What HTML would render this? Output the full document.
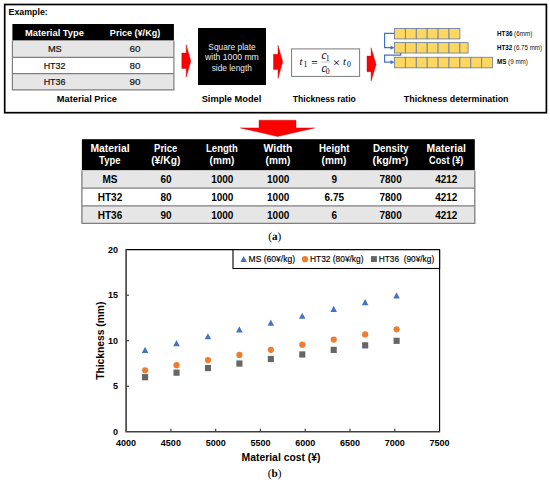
<!DOCTYPE html>
<html><head><meta charset="utf-8"><style>
html,body{margin:0;padding:0;background:#fff;width:550px;height:482px;overflow:hidden}
svg{display:block}
</style></head><body>
<svg width="550" height="482" viewBox="0 0 550 482">
<rect x="4.7" y="4.5" width="541.7" height="108.2" fill="none" stroke="#000" stroke-width="1.7"/>
<text x="28.15" y="14.5" style="font-family:'Liberation Sans',sans-serif;font-size:8.2px;font-weight:bold" fill="#000" text-anchor="middle" textLength="39.16" lengthAdjust="spacingAndGlyphs">Example:</text>
<rect x="12.4" y="24" width="161.5" height="16.6" fill="#000"/>
<rect x="12.4" y="40.6" width="161.5" height="16.7" fill="#e6e6e6"/>
<rect x="12.4" y="57.3" width="161.5" height="16.3" fill="#fff"/>
<rect x="12.4" y="73.6" width="161.5" height="16.3" fill="#e6e6e6"/>
<line x1="12.4" y1="57.3" x2="173.9" y2="57.3" stroke="#7f7f7f" stroke-width="1.2"/>
<line x1="12.4" y1="73.6" x2="173.9" y2="73.6" stroke="#7f7f7f" stroke-width="1.2"/>
<path d="M12.4 40.6 V89.9 H173.9 V40.6" fill="none" stroke="#7f7f7f" stroke-width="1.2"/>
<text x="54.45" y="35.8" style="font-family:'Liberation Sans',sans-serif;font-size:8.8px;font-weight:bold" fill="#fff" text-anchor="middle" textLength="59.0" lengthAdjust="spacingAndGlyphs">Material Type</text>
<text x="135.05" y="35.8" style="font-family:'Liberation Sans',sans-serif;font-size:8.8px;font-weight:bold" fill="#fff" text-anchor="middle" textLength="50.4" lengthAdjust="spacingAndGlyphs">Price (¥/Kg)</text>
<text x="54.85" y="52.4" style="font-family:'Liberation Sans',sans-serif;font-size:9.2px;font-weight:normal" fill="#111" text-anchor="middle" textLength="13.84" lengthAdjust="spacingAndGlyphs" stroke="#111" stroke-width="0.2">MS</text>
<text x="134.9" y="52.4" style="font-family:'Liberation Sans',sans-serif;font-size:9.2px;font-weight:normal" fill="#111" text-anchor="middle" textLength="10.94" lengthAdjust="spacingAndGlyphs" stroke="#111" stroke-width="0.2">60</text>
<text x="54.6" y="68.8" style="font-family:'Liberation Sans',sans-serif;font-size:9.2px;font-weight:normal" fill="#111" text-anchor="middle" textLength="21.94" lengthAdjust="spacingAndGlyphs" stroke="#111" stroke-width="0.2">HT32</text>
<text x="134.9" y="68.8" style="font-family:'Liberation Sans',sans-serif;font-size:9.2px;font-weight:normal" fill="#111" text-anchor="middle" textLength="10.94" lengthAdjust="spacingAndGlyphs" stroke="#111" stroke-width="0.2">80</text>
<text x="54.6" y="85.3" style="font-family:'Liberation Sans',sans-serif;font-size:9.2px;font-weight:normal" fill="#111" text-anchor="middle" textLength="21.94" lengthAdjust="spacingAndGlyphs" stroke="#111" stroke-width="0.2">HT36</text>
<text x="134.9" y="85.3" style="font-family:'Liberation Sans',sans-serif;font-size:9.2px;font-weight:normal" fill="#111" text-anchor="middle" textLength="10.94" lengthAdjust="spacingAndGlyphs" stroke="#111" stroke-width="0.2">90</text>
<text x="86.9" y="101.9" style="font-family:'Liberation Sans',sans-serif;font-size:8.9px;font-weight:bold" fill="#000" text-anchor="middle" textLength="60.11" lengthAdjust="spacingAndGlyphs">Material Price</text>
<polygon points="181.8,53 186.2,53 186.2,44.7 190.8,61.0 186.2,77.3 186.2,68.6 181.8,68.6" fill="#ff0000" stroke="#c00000" stroke-width="0.4"/>
<polygon points="273.5,54.3 278,54.3 278,45.2 282.7,61.800000000000004 278,78.4 278,69.6 273.5,69.6" fill="#ff0000" stroke="#c00000" stroke-width="0.4"/>
<polygon points="367,56.1 371.1,56.1 371.1,47.8 376.1,64.4 371.1,81 371.1,71.7 367,71.7" fill="#ff0000" stroke="#c00000" stroke-width="0.4"/>
<rect x="198" y="28" width="68" height="57" fill="#000"/>
<text x="232.0" y="49.9" style="font-family:'Liberation Sans',sans-serif;font-size:8.2px;font-weight:normal" fill="#ececec" text-anchor="middle" textLength="47.26" lengthAdjust="spacingAndGlyphs">Square plate</text>
<text x="231.9" y="60.1" style="font-family:'Liberation Sans',sans-serif;font-size:8.2px;font-weight:normal" fill="#ececec" text-anchor="middle" textLength="53.86" lengthAdjust="spacingAndGlyphs">with 1000 mm</text>
<text x="231.8" y="70.8" style="font-family:'Liberation Sans',sans-serif;font-size:8.2px;font-weight:normal" fill="#ececec" text-anchor="middle" textLength="40.26" lengthAdjust="spacingAndGlyphs">side length</text>
<text x="231.5" y="102.2" style="font-family:'Liberation Sans',sans-serif;font-size:8.9px;font-weight:bold" fill="#000" text-anchor="middle" textLength="59.71" lengthAdjust="spacingAndGlyphs">Simple Model</text>
<rect x="291.6" y="48.9" width="68" height="27.5" fill="#fff" stroke="#7a7a7a" stroke-width="1"/>
<text x="299.6" y="64.7" style="font-family:'Liberation Serif',serif;font-style:italic;font-size:10.5px;font-weight:normal" fill="#000" text-anchor="start">t</text>
<text x="303.6" y="67.4" style="font-family:'Liberation Serif',serif;font-size:7.8px;font-weight:normal" fill="#000" text-anchor="start">1</text>
<text x="314.4" y="66.8" style="font-family:'Liberation Serif',serif;font-size:11.5px;font-weight:normal" fill="#000" text-anchor="middle">=</text>
<text x="321.4" y="58.7" style="font-family:'Liberation Serif',serif;font-style:italic;font-size:11.5px;font-weight:normal" fill="#000" text-anchor="start">c</text>
<text x="325.8" y="60.6" style="font-family:'Liberation Serif',serif;font-size:7.8px;font-weight:normal" fill="#000" text-anchor="start">1</text>
<line x1="321.4" y1="62" x2="330.6" y2="62" stroke="#8a8a8a" stroke-width="0.5"/>
<text x="321.4" y="71.8" style="font-family:'Liberation Serif',serif;font-style:italic;font-size:11.5px;font-weight:normal" fill="#000" text-anchor="start">c</text>
<text x="325.8" y="74.3" style="font-family:'Liberation Serif',serif;font-size:7.8px;font-weight:normal" fill="#000" text-anchor="start">0</text>
<text x="336.3" y="66.6" style="font-family:'Liberation Serif',serif;font-size:13px;font-weight:normal" fill="#000" text-anchor="middle">×</text>
<text x="343.0" y="64.7" style="font-family:'Liberation Serif',serif;font-style:italic;font-size:10.5px;font-weight:normal" fill="#000" text-anchor="start">t</text>
<text x="347.0" y="67.4" style="font-family:'Liberation Serif',serif;font-size:7.8px;font-weight:normal" fill="#000" text-anchor="start">0</text>
<text x="324.35" y="101.8" style="font-family:'Liberation Sans',sans-serif;font-size:8.9px;font-weight:bold" fill="#000" text-anchor="middle" textLength="63.01" lengthAdjust="spacingAndGlyphs">Thickness ratio</text>
<rect x="394.50" y="28.5" width="10.90" height="10.40" fill="#fdd760" stroke="#72849e" stroke-width="0.9"/>
<rect x="405.40" y="28.5" width="10.90" height="10.40" fill="#fdd760" stroke="#72849e" stroke-width="0.9"/>
<rect x="416.30" y="28.5" width="10.90" height="10.40" fill="#fdd760" stroke="#72849e" stroke-width="0.9"/>
<rect x="427.20" y="28.5" width="10.90" height="10.40" fill="#fdd760" stroke="#72849e" stroke-width="0.9"/>
<rect x="438.10" y="28.5" width="10.90" height="10.40" fill="#fdd760" stroke="#72849e" stroke-width="0.9"/>
<rect x="449.00" y="28.5" width="10.90" height="10.40" fill="#fdd760" stroke="#72849e" stroke-width="0.9"/>
<rect x="394.50" y="42.6" width="10.90" height="10.40" fill="#fdd760" stroke="#72849e" stroke-width="0.9"/>
<rect x="405.40" y="42.6" width="10.90" height="10.40" fill="#fdd760" stroke="#72849e" stroke-width="0.9"/>
<rect x="416.30" y="42.6" width="10.90" height="10.40" fill="#fdd760" stroke="#72849e" stroke-width="0.9"/>
<rect x="427.20" y="42.6" width="10.90" height="10.40" fill="#fdd760" stroke="#72849e" stroke-width="0.9"/>
<rect x="438.10" y="42.6" width="10.90" height="10.40" fill="#fdd760" stroke="#72849e" stroke-width="0.9"/>
<rect x="449.00" y="42.6" width="10.90" height="10.40" fill="#fdd760" stroke="#72849e" stroke-width="0.9"/>
<rect x="459.90" y="42.6" width="8.18" height="10.40" fill="#fdd760" stroke="#72849e" stroke-width="0.9"/>
<rect x="394.50" y="57.3" width="10.90" height="10.50" fill="#fdd760" stroke="#72849e" stroke-width="0.9"/>
<rect x="405.40" y="57.3" width="10.90" height="10.50" fill="#fdd760" stroke="#72849e" stroke-width="0.9"/>
<rect x="416.30" y="57.3" width="10.90" height="10.50" fill="#fdd760" stroke="#72849e" stroke-width="0.9"/>
<rect x="427.20" y="57.3" width="10.90" height="10.50" fill="#fdd760" stroke="#72849e" stroke-width="0.9"/>
<rect x="438.10" y="57.3" width="10.90" height="10.50" fill="#fdd760" stroke="#72849e" stroke-width="0.9"/>
<rect x="449.00" y="57.3" width="10.90" height="10.50" fill="#fdd760" stroke="#72849e" stroke-width="0.9"/>
<rect x="459.90" y="57.3" width="10.90" height="10.50" fill="#fdd760" stroke="#72849e" stroke-width="0.9"/>
<rect x="470.80" y="57.3" width="10.90" height="10.50" fill="#fdd760" stroke="#72849e" stroke-width="0.9"/>
<rect x="481.70" y="57.3" width="10.90" height="10.50" fill="#fdd760" stroke="#72849e" stroke-width="0.9"/>
<path d="M394.5 33.4 H384.6 V47.7 H391" fill="none" stroke="#4472c4" stroke-width="1.2"/>
<polygon points="390.5,45.6 394.5,47.7 390.5,49.8" fill="#4472c4"/>
<path d="M400.7 53.1 V55.2 H384.6 V62.2 H391" fill="none" stroke="#4472c4" stroke-width="1.2"/>
<polygon points="390.5,60.1 394.5,62.2 390.5,64.3" fill="#4472c4"/>
<text x="497.0" y="36" style="font-family:'Liberation Sans',sans-serif;font-size:6.3px" textLength="35.3" lengthAdjust="spacingAndGlyphs"><tspan font-weight="bold" fill="#000">HT36</tspan><tspan fill="#111"> (6mm)</tspan></text>
<text x="497.0" y="49.9" style="font-family:'Liberation Sans',sans-serif;font-size:6.3px" textLength="45.1" lengthAdjust="spacingAndGlyphs"><tspan font-weight="bold" fill="#000">HT32</tspan><tspan fill="#111"> (6.75 mm)</tspan></text>
<text x="497.0" y="64" style="font-family:'Liberation Sans',sans-serif;font-size:6.3px" textLength="30.9" lengthAdjust="spacingAndGlyphs"><tspan font-weight="bold" fill="#000">MS</tspan><tspan fill="#111"> (9 mm)</tspan></text>
<text x="456.2" y="102" style="font-family:'Liberation Sans',sans-serif;font-size:8.9px;font-weight:bold" fill="#000" text-anchor="middle" textLength="104.71" lengthAdjust="spacingAndGlyphs">Thickness determination</text>
<polygon points="259,120.2 296,120.2 296,127.9 314.6,127.9 277.6,136.6 240.4,127.9 259,127.9" fill="#ff0000" stroke="#c00000" stroke-width="0.4"/>
<rect x="81.9" y="139.2" width="392.9" height="31.2" fill="#000"/>
<rect x="81.9" y="170.4" width="392.9" height="17.7" fill="#e6e6e6"/>
<rect x="81.9" y="188.1" width="392.9" height="17.7" fill="#fff"/>
<rect x="81.9" y="205.8" width="392.9" height="17.5" fill="#e6e6e6"/>
<line x1="81.9" y1="188.1" x2="474.8" y2="188.1" stroke="#7f7f7f" stroke-width="1.3"/>
<line x1="81.9" y1="205.8" x2="474.8" y2="205.8" stroke="#7f7f7f" stroke-width="1.3"/>
<path d="M81.9 170.4 V223.3 H474.8 V170.4" fill="none" stroke="#7f7f7f" stroke-width="1.3"/>
<text x="110.0" y="151.9" style="font-family:'Liberation Sans',sans-serif;font-size:10px;font-weight:bold" fill="#fff" text-anchor="middle" textLength="39.0" lengthAdjust="spacingAndGlyphs">Material</text>
<text x="165.7" y="151.9" style="font-family:'Liberation Sans',sans-serif;font-size:10px;font-weight:bold" fill="#fff" text-anchor="middle" textLength="23.4" lengthAdjust="spacingAndGlyphs">Price</text>
<text x="221.9" y="151.9" style="font-family:'Liberation Sans',sans-serif;font-size:10px;font-weight:bold" fill="#fff" text-anchor="middle" textLength="31.8" lengthAdjust="spacingAndGlyphs">Length</text>
<text x="278.0" y="151.9" style="font-family:'Liberation Sans',sans-serif;font-size:10px;font-weight:bold" fill="#fff" text-anchor="middle" textLength="28.8" lengthAdjust="spacingAndGlyphs">Width</text>
<text x="334.2" y="151.9" style="font-family:'Liberation Sans',sans-serif;font-size:10px;font-weight:bold" fill="#fff" text-anchor="middle" textLength="30.4" lengthAdjust="spacingAndGlyphs">Height</text>
<text x="390.7" y="151.9" style="font-family:'Liberation Sans',sans-serif;font-size:10px;font-weight:bold" fill="#fff" text-anchor="middle" textLength="35.4" lengthAdjust="spacingAndGlyphs">Density</text>
<text x="446.2" y="151.9" style="font-family:'Liberation Sans',sans-serif;font-size:10px;font-weight:bold" fill="#fff" text-anchor="middle" textLength="39.2" lengthAdjust="spacingAndGlyphs">Material</text>
<text x="109.75" y="163.7" style="font-family:'Liberation Sans',sans-serif;font-size:10px;font-weight:bold" fill="#fff" text-anchor="middle" textLength="21.3" lengthAdjust="spacingAndGlyphs">Type</text>
<text x="165.8" y="163.7" style="font-family:'Liberation Sans',sans-serif;font-size:10px;font-weight:bold" fill="#fff" text-anchor="middle" textLength="29.2" lengthAdjust="spacingAndGlyphs">(¥/Kg)</text>
<text x="222.0" y="163.7" style="font-family:'Liberation Sans',sans-serif;font-size:10px;font-weight:bold" fill="#fff" text-anchor="middle" textLength="24.8" lengthAdjust="spacingAndGlyphs">(mm)</text>
<text x="278.0" y="163.7" style="font-family:'Liberation Sans',sans-serif;font-size:10px;font-weight:bold" fill="#fff" text-anchor="middle" textLength="24.8" lengthAdjust="spacingAndGlyphs">(mm)</text>
<text x="334.0" y="163.7" style="font-family:'Liberation Sans',sans-serif;font-size:10px;font-weight:bold" fill="#fff" text-anchor="middle" textLength="24.8" lengthAdjust="spacingAndGlyphs">(mm)</text>
<text x="390.5" y="163.7" style="font-family:'Liberation Sans',sans-serif;font-size:10px;font-weight:bold" fill="#fff" text-anchor="middle" textLength="35.8" lengthAdjust="spacingAndGlyphs">(kg/m³)</text>
<text x="446.2" y="163.7" style="font-family:'Liberation Sans',sans-serif;font-size:10px;font-weight:bold" fill="#fff" text-anchor="middle" textLength="34.4" lengthAdjust="spacingAndGlyphs">Cost (¥)</text>
<text x="110.0" y="182.9" style="font-family:'Liberation Sans',sans-serif;font-size:10px;font-weight:bold" fill="#000" text-anchor="middle">MS</text>
<text x="166.1" y="182.9" style="font-family:'Liberation Sans',sans-serif;font-size:10px;font-weight:bold" fill="#000" text-anchor="middle">60</text>
<text x="222.3" y="182.9" style="font-family:'Liberation Sans',sans-serif;font-size:10px;font-weight:bold" fill="#000" text-anchor="middle">1000</text>
<text x="278.2" y="182.9" style="font-family:'Liberation Sans',sans-serif;font-size:10px;font-weight:bold" fill="#000" text-anchor="middle">1000</text>
<text x="334.3" y="182.9" style="font-family:'Liberation Sans',sans-serif;font-size:10px;font-weight:bold" fill="#000" text-anchor="middle">9</text>
<text x="390.6" y="182.9" style="font-family:'Liberation Sans',sans-serif;font-size:10px;font-weight:bold" fill="#000" text-anchor="middle">7800</text>
<text x="446.3" y="182.9" style="font-family:'Liberation Sans',sans-serif;font-size:10px;font-weight:bold" fill="#000" text-anchor="middle">4212</text>
<text x="110.0" y="200.8" style="font-family:'Liberation Sans',sans-serif;font-size:10px;font-weight:bold" fill="#000" text-anchor="middle">HT32</text>
<text x="166.1" y="200.8" style="font-family:'Liberation Sans',sans-serif;font-size:10px;font-weight:bold" fill="#000" text-anchor="middle">80</text>
<text x="222.3" y="200.8" style="font-family:'Liberation Sans',sans-serif;font-size:10px;font-weight:bold" fill="#000" text-anchor="middle">1000</text>
<text x="278.2" y="200.8" style="font-family:'Liberation Sans',sans-serif;font-size:10px;font-weight:bold" fill="#000" text-anchor="middle">1000</text>
<text x="334.3" y="200.8" style="font-family:'Liberation Sans',sans-serif;font-size:10px;font-weight:bold" fill="#000" text-anchor="middle">6.75</text>
<text x="390.6" y="200.8" style="font-family:'Liberation Sans',sans-serif;font-size:10px;font-weight:bold" fill="#000" text-anchor="middle">7800</text>
<text x="446.3" y="200.8" style="font-family:'Liberation Sans',sans-serif;font-size:10px;font-weight:bold" fill="#000" text-anchor="middle">4212</text>
<text x="110.0" y="218.8" style="font-family:'Liberation Sans',sans-serif;font-size:10px;font-weight:bold" fill="#000" text-anchor="middle">HT36</text>
<text x="166.1" y="218.8" style="font-family:'Liberation Sans',sans-serif;font-size:10px;font-weight:bold" fill="#000" text-anchor="middle">90</text>
<text x="222.3" y="218.8" style="font-family:'Liberation Sans',sans-serif;font-size:10px;font-weight:bold" fill="#000" text-anchor="middle">1000</text>
<text x="278.2" y="218.8" style="font-family:'Liberation Sans',sans-serif;font-size:10px;font-weight:bold" fill="#000" text-anchor="middle">1000</text>
<text x="334.3" y="218.8" style="font-family:'Liberation Sans',sans-serif;font-size:10px;font-weight:bold" fill="#000" text-anchor="middle">6</text>
<text x="390.6" y="218.8" style="font-family:'Liberation Sans',sans-serif;font-size:10px;font-weight:bold" fill="#000" text-anchor="middle">7800</text>
<text x="446.3" y="218.8" style="font-family:'Liberation Sans',sans-serif;font-size:10px;font-weight:bold" fill="#000" text-anchor="middle">4212</text>
<text x="274.8" y="240.2" text-anchor="middle" style="font-family:'Liberation Serif',serif;font-size:11.2px;text-rendering:geometricPrecision">(<tspan font-weight="bold">a</tspan>)</text>
<line x1="126.1" y1="249.7" x2="439.6" y2="249.7" stroke="#000" stroke-width="1.3"/>
<line x1="439.6" y1="249.7" x2="439.6" y2="431.7" stroke="#000" stroke-width="1.1"/>
<path d="M126.1 249.1 V431.7 H440.1" fill="none" stroke="#404040" stroke-width="1.6"/>
<text x="117.9" y="434.9" style="font-family:'Liberation Sans',sans-serif;font-size:9px;font-weight:bold" fill="#000" text-anchor="end">0</text>
<line x1="126.1" y1="386.20" x2="129.1" y2="386.20" stroke="#404040" stroke-width="1.2"/>
<text x="117.9" y="389.4" style="font-family:'Liberation Sans',sans-serif;font-size:9px;font-weight:bold" fill="#000" text-anchor="end">5</text>
<line x1="126.1" y1="340.70" x2="129.1" y2="340.70" stroke="#404040" stroke-width="1.2"/>
<text x="117.9" y="343.9" style="font-family:'Liberation Sans',sans-serif;font-size:9px;font-weight:bold" fill="#000" text-anchor="end">10</text>
<line x1="126.1" y1="295.20" x2="129.1" y2="295.20" stroke="#404040" stroke-width="1.2"/>
<text x="117.9" y="298.4" style="font-family:'Liberation Sans',sans-serif;font-size:9px;font-weight:bold" fill="#000" text-anchor="end">15</text>
<text x="117.9" y="252.9" style="font-family:'Liberation Sans',sans-serif;font-size:9px;font-weight:bold" fill="#000" text-anchor="end">20</text>
<text x="126.1" y="446" style="font-family:'Liberation Sans',sans-serif;font-size:9px;font-weight:bold" fill="#000" text-anchor="middle">4000</text>
<line x1="170.89" y1="431.7" x2="170.89" y2="428.7" stroke="#404040" stroke-width="1.2"/>
<text x="170.89" y="446" style="font-family:'Liberation Sans',sans-serif;font-size:9px;font-weight:bold" fill="#000" text-anchor="middle">4500</text>
<line x1="215.67" y1="431.7" x2="215.67" y2="428.7" stroke="#404040" stroke-width="1.2"/>
<text x="215.67" y="446" style="font-family:'Liberation Sans',sans-serif;font-size:9px;font-weight:bold" fill="#000" text-anchor="middle">5000</text>
<line x1="260.46" y1="431.7" x2="260.46" y2="428.7" stroke="#404040" stroke-width="1.2"/>
<text x="260.46" y="446" style="font-family:'Liberation Sans',sans-serif;font-size:9px;font-weight:bold" fill="#000" text-anchor="middle">5500</text>
<line x1="305.24" y1="431.7" x2="305.24" y2="428.7" stroke="#404040" stroke-width="1.2"/>
<text x="305.24" y="446" style="font-family:'Liberation Sans',sans-serif;font-size:9px;font-weight:bold" fill="#000" text-anchor="middle">6000</text>
<line x1="350.03" y1="431.7" x2="350.03" y2="428.7" stroke="#404040" stroke-width="1.2"/>
<text x="350.03" y="446" style="font-family:'Liberation Sans',sans-serif;font-size:9px;font-weight:bold" fill="#000" text-anchor="middle">6500</text>
<line x1="394.81" y1="431.7" x2="394.81" y2="428.7" stroke="#404040" stroke-width="1.2"/>
<text x="394.81" y="446" style="font-family:'Liberation Sans',sans-serif;font-size:9px;font-weight:bold" fill="#000" text-anchor="middle">7000</text>
<text x="439.6" y="446" style="font-family:'Liberation Sans',sans-serif;font-size:9px;font-weight:bold" fill="#000" text-anchor="middle">7500</text>
<text x="0" y="0" transform="translate(103.7,340.7) rotate(-90)" text-anchor="middle" style="font-family:'Liberation Sans',sans-serif;font-size:10px;font-weight:bold" textLength="78.2" lengthAdjust="spacingAndGlyphs">Thickness (mm)</text>
<text x="281.05" y="461" style="font-family:'Liberation Sans',sans-serif;font-size:10px;font-weight:bold" fill="#000" text-anchor="middle" textLength="78.9" lengthAdjust="spacingAndGlyphs">Material cost (¥)</text>
<text x="274.7" y="476.6" text-anchor="middle" style="font-family:'Liberation Serif',serif;font-size:11.2px;text-rendering:geometricPrecision">(<tspan font-weight="bold">b</tspan>)</text>
<polygon points="141.79,353.00 148.29,353.00 145.04,346.80" fill="#4472c4"/>
<circle cx="145.09" cy="370.27" r="3.1" fill="#ed7d31"/>
<rect x="142.04" y="374.10" width="6.1" height="6.2" fill="#666"/>
<polygon points="173.23,346.18 179.73,346.18 176.48,339.98" fill="#4472c4"/>
<circle cx="176.53" cy="365.16" r="3.1" fill="#ed7d31"/>
<rect x="173.48" y="369.55" width="6.1" height="6.2" fill="#666"/>
<polygon points="204.67,339.35 211.17,339.35 207.92,333.15" fill="#4472c4"/>
<circle cx="207.97" cy="360.04" r="3.1" fill="#ed7d31"/>
<rect x="204.92" y="365.00" width="6.1" height="6.2" fill="#666"/>
<polygon points="236.11,332.52 242.61,332.52 239.36,326.32" fill="#4472c4"/>
<circle cx="239.41" cy="354.92" r="3.1" fill="#ed7d31"/>
<rect x="236.36" y="360.45" width="6.1" height="6.2" fill="#666"/>
<polygon points="267.55,325.70 274.05,325.70 270.80,319.50" fill="#4472c4"/>
<circle cx="270.85" cy="349.80" r="3.1" fill="#ed7d31"/>
<rect x="267.80" y="355.90" width="6.1" height="6.2" fill="#666"/>
<polygon points="298.99,318.87 305.49,318.87 302.24,312.67" fill="#4472c4"/>
<circle cx="302.29" cy="344.68" r="3.1" fill="#ed7d31"/>
<rect x="299.24" y="351.35" width="6.1" height="6.2" fill="#666"/>
<polygon points="330.43,312.05 336.93,312.05 333.68,305.85" fill="#4472c4"/>
<circle cx="333.73" cy="339.56" r="3.1" fill="#ed7d31"/>
<rect x="330.68" y="346.80" width="6.1" height="6.2" fill="#666"/>
<polygon points="361.87,305.22 368.37,305.22 365.12,299.02" fill="#4472c4"/>
<circle cx="365.17" cy="334.44" r="3.1" fill="#ed7d31"/>
<rect x="362.12" y="342.25" width="6.1" height="6.2" fill="#666"/>
<polygon points="393.31,298.40 399.81,298.40 396.56,292.20" fill="#4472c4"/>
<circle cx="396.61" cy="329.32" r="3.1" fill="#ed7d31"/>
<rect x="393.56" y="337.70" width="6.1" height="6.2" fill="#666"/>
<rect x="233" y="249.7" width="206.60000000000002" height="18.80000000000001" fill="#fff" stroke="#000" stroke-width="1.1"/>
<polygon points="240.4,262 246.9,262 243.65,256.1" fill="#4472c4"/>
<text x="248.6" y="262" style="font-family:'Liberation Sans',sans-serif;font-size:8.5px;font-weight:normal" fill="#000" text-anchor="start" textLength="46.4" lengthAdjust="spacingAndGlyphs" stroke="#000" stroke-width="0.15">MS (60¥/kg)</text>
<circle cx="305" cy="259.2" r="3.1" fill="#ed7d31"/>
<text x="310" y="262" style="font-family:'Liberation Sans',sans-serif;font-size:8.5px;font-weight:normal" fill="#000" text-anchor="start" textLength="53.5" lengthAdjust="spacingAndGlyphs" stroke="#000" stroke-width="0.15">HT32 (80¥/kg)</text>
<rect x="371" y="256.1" width="5.9" height="5.9" fill="#666"/>
<text x="378.7" y="262" style="font-family:'Liberation Sans',sans-serif;font-size:8.5px;font-weight:normal" fill="#000" text-anchor="start" textLength="55.5" lengthAdjust="spacingAndGlyphs" xml:space="preserve" stroke="#000" stroke-width="0.15">HT36  (90¥/kg)</text>
</svg>
</body></html>
